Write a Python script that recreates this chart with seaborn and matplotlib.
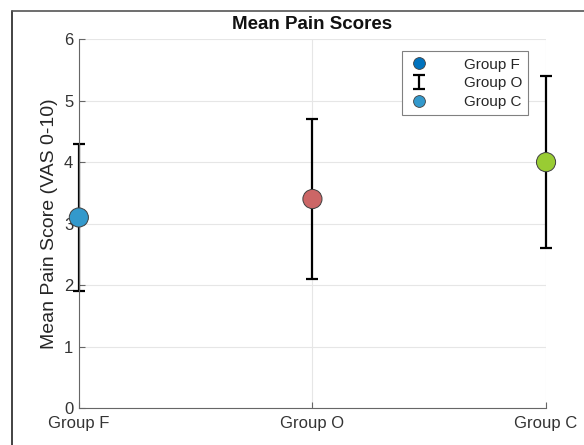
import matplotlib
matplotlib.use("Agg")
import matplotlib.pyplot as plt
from matplotlib.lines import Line2D
from matplotlib.legend_handler import HandlerErrorbar
import seaborn as sns
import pandas as pd

groups = ["Group F", "Group O", "Group C"]
means = [3.1, 3.4, 4.0]
sds = [1.2, 1.3, 1.4]
point_colors = ["#3399cc", "#cc6666", "#99cc33"]
yticks = [0, 1, 2, 3, 4, 5, 6]

sns.set_theme(style="white")
plt.rcParams["font.family"] = ["Liberation Sans", "DejaVu Sans"]

df = pd.DataFrame({"group": groups, "pos": [1, 2, 3], "mean": means, "sd": sds})

fig = plt.figure(figsize=(5.84, 4.45), dpi=100)
ax = fig.add_axes([0.135, 0.083, 0.8, 0.829])

# error bars behind the markers
err = ax.errorbar(df["pos"], df["mean"], yerr=df["sd"], fmt="none", ecolor="black",
                  elinewidth=1.6, capsize=4.5, capthick=1.6, zorder=2, clip_on=False)

sns.scatterplot(data=df, x="pos", y="mean", hue="group", palette=point_colors,
                s=190, edgecolor="#404040", linewidth=0.7, zorder=3, ax=ax,
                legend=False, clip_on=False)

ax.set_xlim(1, 3)
ax.set_ylim(0, 6)
ax.set_xticks([1, 2, 3])
ax.set_xticklabels(groups)
ax.set_yticks(yticks)
ax.set_xlabel("")
ax.set_ylabel("Mean Pain Score (VAS 0-10)", fontsize=14, color="#262626", labelpad=4)
ax.set_title("Mean Pain Scores", fontsize=13.5, fontweight="bold", color="#111111", pad=7)

ax.grid(True, color="#e6e6e6", linewidth=0.8)
ax.set_axisbelow(True)
for side in ["top", "right"]:
    ax.spines[side].set_visible(False)
for side in ["left", "bottom"]:
    ax.spines[side].set_color("#666666")
    ax.spines[side].set_linewidth(0.8)
ax.tick_params(axis="both", direction="in", length=4, width=0.8, color="#666666",
               labelsize=12, labelcolor="#333333", left=True, bottom=True)
ax.tick_params(axis="x", pad=6)
ax.tick_params(axis="y", pad=4)

handles = [
    Line2D([], [], marker="o", linestyle="none", markersize=8.5, markerfacecolor="#0072bd",
           markeredgecolor="#404040", markeredgewidth=0.6),
    err,
    Line2D([], [], marker="o", linestyle="none", markersize=8.5, markerfacecolor="#3399cc",
           markeredgecolor="#404040", markeredgewidth=0.6),
]
leg = ax.legend(handles, groups, loc="upper right", bbox_to_anchor=(0.968, 0.975),
                fontsize=11, frameon=True, fancybox=False, framealpha=1,
                edgecolor="#808080", handlelength=1.4, handletextpad=2.2,
                labelspacing=0.32, borderpad=0.4, borderaxespad=0.2,
                handler_map={type(err): HandlerErrorbar(xerr_size=0.3, yerr_size=0.45)})
leg.get_frame().set_linewidth(0.8)

# outer frame lines along the left and top edges
fig.add_artist(Line2D([12 / 584, 12 / 584], [0, 1 - 11 / 445], transform=fig.transFigure,
                      color="#222222", linewidth=1.2))
fig.add_artist(Line2D([12 / 584, 1], [1 - 11 / 445, 1 - 11 / 445], transform=fig.transFigure,
                      color="#555555", linewidth=1.2))

fig.savefig("out.png", dpi=100)
